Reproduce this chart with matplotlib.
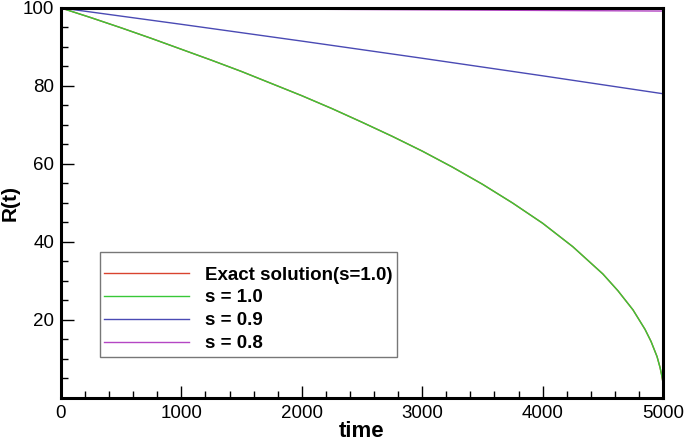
import numpy as np
import matplotlib
matplotlib.use('Agg')
import matplotlib.pyplot as plt
from matplotlib.ticker import MultipleLocator

plt.rcParams['font.family'] = ['Liberation Sans', 'DejaVu Sans']

# values
t_exact = [0, 250, 500, 750, 1000, 1250, 1500, 1750, 2000, 2250, 2500, 2750,
           3000, 3250, 3500, 3750, 4000, 4250, 4500, 4625, 4750, 4850, 4900,
           4950, 4975, 4990, 5000]
r_exact = [100, 97.5, 94.9, 92.2, 89.4, 86.6, 83.7, 80.6, 77.5, 74.2, 70.7,
           67.1, 63.3, 59.2, 54.8, 50.0, 44.8, 38.8, 31.8, 27.5, 22.6, 17.6,
           14.5, 10.6, 7.8, 5.6, 3.8]
t_s10 = t_exact
r_s10 = [100, 97.5, 94.9, 92.2, 89.4, 86.6, 83.7, 80.6, 77.5, 74.2, 70.7,
         67.1, 63.3, 59.2, 54.8, 50.0, 44.8, 38.8, 31.8, 27.5, 22.6, 17.6,
         14.5, 10.6, 7.8, 5.6, 3.8]
t_s09 = [0, 1000, 2000, 3000, 4000, 5000]
r_s09 = [100, 95.8, 91.5, 87.1, 82.6, 78.0]
t_s08 = [0, 2500, 5000]
r_s08 = [100, 99.6, 99.2]

labels = ['Exact solution(s=1.0)', 's = 1.0', 's = 0.9', 's = 0.8']
colors = ['#d9432f', '#38c838', '#4a4ab4', '#b446c4']

fig = plt.figure(figsize=(6.85, 4.41), dpi=100)
ax = fig.add_axes([0.089, 0.0975, 0.879, 0.8845])

ax.plot(t_exact, r_exact, color=colors[0], lw=1, label=labels[0])
ax.plot(t_s10, r_s10, color=colors[1], lw=1, label=labels[1])
ax.plot(t_s09, r_s09, color=colors[2], lw=1, label=labels[2])
ax.plot(t_s08, r_s08, color=colors[3], lw=1, label=labels[3])

ax.set_xlim(0, 5000)
ax.set_ylim(0, 100)
ax.xaxis.set_major_locator(MultipleLocator(1000))
ax.xaxis.set_minor_locator(MultipleLocator(200))
ax.yaxis.set_minor_locator(MultipleLocator(5))
ax.set_yticks([20, 40, 60, 80, 100])

ax.tick_params(which='both', direction='in', top=False, right=False, labelsize=13.5, width=1)
ax.tick_params(which='major', length=9, pad=5)
ax.tick_params(which='minor', length=5)
for s in ax.spines.values():
    s.set_linewidth(2.2)

ax.set_xlabel('time', fontsize=16, fontweight='bold', labelpad=-1)
ax.set_ylabel('R(t)', fontsize=15, fontweight='bold')
ax.yaxis.set_label_coords(-0.069, 0.5)

leg = ax.legend(loc='lower left', bbox_to_anchor=(0.064, 0.105),
                prop={'weight': 'bold', 'size': 13.5}, fancybox=False,
                handlelength=4.5, handletextpad=0.85, labelspacing=0.31,
                borderpad=0.25, borderaxespad=0,
                title=' ', title_fontsize=2)
leg.get_frame().set_edgecolor('#555555')
leg.get_frame().set_linewidth(1)

fig.savefig('out.png', dpi=100)
